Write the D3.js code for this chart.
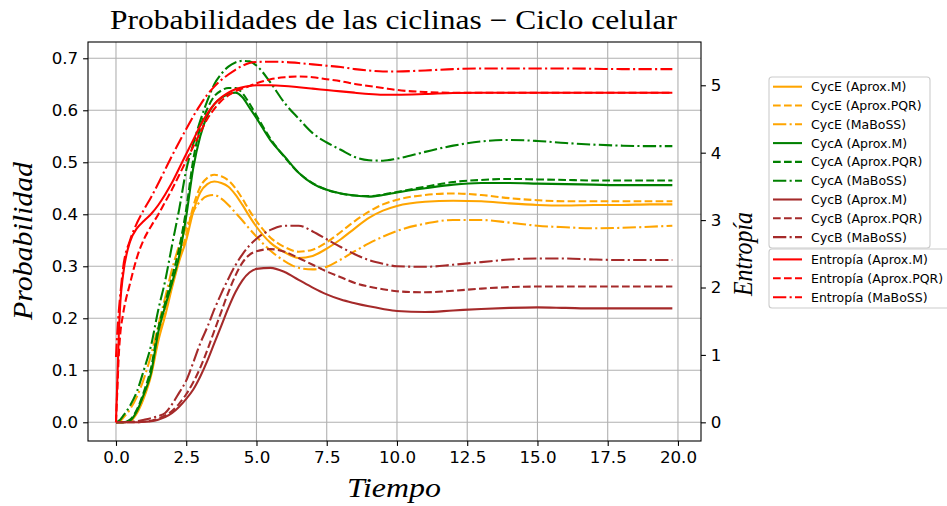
<!DOCTYPE html>
<html><head><meta charset="utf-8">
<script src="https://cdn.jsdelivr.net/npm/d3@7"></script>
<style>body{margin:0;background:#fff}</style>
</head><body><svg id="c" width="947" height="506"></svg>
<script>
// ---------- data ----------
const tiempo = [0,0.05,0.1,0.15,0.25,0.5,0.75,1,1.25,1.5,1.75,2,2.25,2.5,2.75,3,3.25,3.5,3.75,4,4.25,4.5,4.75,5,5.5,6,6.5,7,7.5,8,8.5,9,9.5,10,11,12,13,14,15,16,17,18,19,19.8];

const cycE_M   = [0,0,0,0, 0,0.002,0.018,0.048,0.09,0.155,0.205,0.26,0.31,0.35,0.405,0.442,0.458,0.463,0.46,0.453,0.438,0.418,0.396,0.376, 0.345,0.327,0.316,0.32,0.334,0.352,0.373,0.393,0.407,0.416, 0.424,0.426,0.425,0.421,0.418,0.417,0.418,0.418,0.419, 0.419];
const cycE_PQR = [0,0,0,0, 0,0.003,0.02,0.05,0.095,0.16,0.21,0.265,0.315,0.36,0.415,0.453,0.47,0.476,0.473,0.465,0.45,0.43,0.407,0.387, 0.355,0.337,0.328,0.332,0.346,0.366,0.387,0.405,0.419,0.428, 0.437,0.44,0.437,0.431,0.427,0.425,0.425,0.425,0.425, 0.425];
const cycE_MaB = [0,0,0.001,0.002, 0.008,0.025,0.05,0.085,0.13,0.185,0.24,0.295,0.34,0.375,0.405,0.425,0.435,0.437,0.43,0.418,0.403,0.388,0.372,0.357, 0.33,0.31,0.297,0.294,0.299,0.313,0.329,0.344,0.357,0.368, 0.382,0.389,0.389,0.384,0.378,0.375,0.373,0.374,0.376, 0.378];
const cycA_M   = [0,0,0,0, 0,0.003,0.022,0.055,0.095,0.172,0.223,0.269,0.32,0.396,0.489,0.55,0.59,0.612,0.624,0.631,0.634,0.625,0.605,0.585, 0.542,0.511,0.48,0.459,0.447,0.44,0.436,0.434,0.437,0.442, 0.45,0.457,0.46,0.46,0.459,0.458,0.457,0.456,0.456, 0.456];
const cycA_PQR = [0,0,0,0, 0,0.005,0.025,0.06,0.105,0.18,0.23,0.28,0.335,0.41,0.505,0.567,0.603,0.627,0.638,0.643,0.643,0.633,0.613,0.59, 0.545,0.51,0.48,0.46,0.447,0.44,0.436,0.435,0.438,0.443, 0.453,0.462,0.466,0.468,0.467,0.466,0.465,0.465,0.465, 0.465];
const cycA_MaB = [0,0.001,0.003,0.005, 0.012,0.032,0.06,0.102,0.148,0.215,0.272,0.342,0.41,0.485,0.535,0.58,0.618,0.65,0.67,0.684,0.692,0.695,0.694,0.686, 0.653,0.614,0.584,0.556,0.538,0.524,0.51,0.504,0.503,0.507, 0.52,0.532,0.54,0.543,0.541,0.537,0.534,0.532,0.531, 0.531];
const cycB_M   = [0,0,0,0, 0,0,0,0.001,0.002,0.005,0.01,0.018,0.03,0.045,0.063,0.088,0.118,0.152,0.186,0.22,0.25,0.273,0.288,0.295, 0.297,0.289,0.274,0.259,0.246,0.236,0.229,0.223,0.218,0.214, 0.212,0.215,0.218,0.22,0.221,0.22,0.219,0.219,0.219, 0.219];
const cycB_PQR = [0,0,0,0, 0,0,0,0.001,0.003,0.007,0.013,0.022,0.036,0.054,0.077,0.105,0.139,0.176,0.213,0.25,0.282,0.307,0.322,0.329, 0.333,0.328,0.316,0.303,0.29,0.279,0.268,0.261,0.256,0.252, 0.25,0.253,0.257,0.26,0.261,0.261,0.261,0.261,0.261, 0.261];
const cycB_MaB = [0,0,0,0, 0,0.001,0.002,0.005,0.008,0.012,0.018,0.035,0.057,0.08,0.115,0.152,0.183,0.217,0.248,0.276,0.302,0.323,0.34,0.353, 0.37,0.378,0.378,0.367,0.352,0.337,0.323,0.312,0.305,0.3, 0.299,0.303,0.308,0.313,0.315,0.315,0.313,0.312,0.312, 0.312];
const ent_M    = [0,0.65,1.3,1.75, 2.18,2.68,2.88,2.99,3.09,3.22,3.38,3.56,3.77,3.98,4.19,4.4,4.58,4.72,4.82,4.89,4.94,4.97,4.99,5.0, 5.0,4.99,4.97,4.95,4.93,4.91,4.89,4.87,4.86,4.86, 4.87,4.885,4.89,4.89,4.89,4.89,4.89,4.89,4.89, 4.89];
const ent_PQR  = [0,0.5,1.0,1.3, 1.6,2.06,2.45,2.72,2.91,3.08,3.27,3.46,3.67,3.88,4.09,4.3,4.5,4.65,4.77,4.85,4.91,4.95,4.99,5.03, 5.09,5.12,5.13,5.12,5.09,5.06,5.02,4.99,4.96,4.93, 4.9,4.89,4.89,4.89,4.89,4.89,4.89,4.89,4.89, 4.89];
const ent_MaB  = [0.97,1.35,1.65,1.88, 2.28,2.7,2.96,3.16,3.34,3.54,3.75,3.96,4.16,4.35,4.54,4.71,4.86,4.98,5.08,5.16,5.23,5.29,5.33,5.345, 5.35,5.345,5.33,5.31,5.29,5.27,5.24,5.22,5.205,5.205, 5.22,5.24,5.25,5.25,5.25,5.25,5.245,5.24,5.24, 5.24];

const xTicks = [0,2.5,5,7.5,10,12.5,15,17.5,20];
const yTicksL = [0,0.1,0.2,0.3,0.4,0.5,0.6,0.7];
const yTicksR = [0,1,2,3,4,5];
const probLabels = ["CycE (Aprox.M)","CycE (Aprox.PQR)","CycE (MaBoSS)","CycA (Aprox.M)","CycA (Aprox.PQR)","CycA (MaBoSS)","CycB (Aprox.M)","CycB (Aprox.PQR)","CycB (MaBoSS)"];
const entLabels = ["Entropía (Aprox.M)","Entropía (Aprox.PQR)","Entropía (MaBoSS)"];

// ---------- styles ----------
const DASH = {solid:null, dashed:"7.7,3.3", dashdot:"13.3,3.3,2.1,3.3"};
const probSeries = [
  [cycE_M,"#ffa500","solid"],[cycE_PQR,"#ffa500","dashed"],[cycE_MaB,"#ffa500","dashdot"],
  [cycA_M,"#008000","solid"],[cycA_PQR,"#008000","dashed"],[cycA_MaB,"#008000","dashdot"],
  [cycB_M,"#a52a2a","solid"],[cycB_PQR,"#a52a2a","dashed"],[cycB_MaB,"#a52a2a","dashdot"]];
const entSeries = [[ent_M,"#ff0000","solid"],[ent_PQR,"#ff0000","dashed"],[ent_MaB,"#ff0000","dashdot"]];

const svg = d3.select("#c");
const L=88, R=701, T=42, B=441;
const x = d3.scaleLinear().domain([-0.996, 20.82]).range([L,R]);
const yL = d3.scaleLinear().domain([-0.036, 0.7313]).range([B,T]);
const yR = d3.scaleLinear().domain([-0.277, 5.642]).range([B,T]);
const LW = 2.08;
const tickFont = "'DejaVu Sans', sans-serif";

svg.append("defs").append("clipPath").attr("id","clip")
  .append("rect").attr("x",L).attr("y",T).attr("width",R-L).attr("height",B-T);

// grid
const g = svg.append("g");
g.selectAll(".gx").data(xTicks).enter().append("line")
  .attr("x1",d=>x(d)).attr("x2",d=>x(d)).attr("y1",T).attr("y2",B)
  .attr("stroke","#b0b0b0").attr("stroke-width",1.1);
g.selectAll(".gy").data(yTicksL).enter().append("line")
  .attr("x1",L).attr("x2",R).attr("y1",d=>yL(d)).attr("y2",d=>yL(d))
  .attr("stroke","#b0b0b0").attr("stroke-width",1.1);

// lines
const plot = svg.append("g").attr("clip-path","url(#clip)");
function drawSeries(list, ys){
  list.forEach(([vals,col,st])=>{
    const line = d3.line().x((d,i)=>x(tiempo[i])).y(d=>ys(d)).curve(d3.curveMonotoneX);
    plot.append("path").datum(vals).attr("d",line).attr("fill","none")
      .attr("stroke",col).attr("stroke-width",LW)
      .attr("stroke-dasharray",DASH[st]);
  });
}
drawSeries(probSeries, yL);
drawSeries(entSeries, yR);

// frame
svg.append("rect").attr("x",L).attr("y",T).attr("width",R-L).attr("height",B-T)
  .attr("fill","none").attr("stroke","#000").attr("stroke-width",1.1);

// axes
function styleAxis(sel){
  sel.select(".domain").remove();
  sel.selectAll("line").attr("stroke","#000").attr("stroke-width",1.1);
  sel.selectAll("text").attr("font-family",tickFont).attr("font-size","16.7px").attr("fill","#000");
}
svg.append("g").attr("transform",`translate(0,${B})`)
  .call(d3.axisBottom(x).tickValues(xTicks).tickFormat(d3.format(".1f")).tickSize(4.9).tickPadding(4.9))
  .call(styleAxis);
svg.append("g").attr("transform",`translate(${L},0)`)
  .call(d3.axisLeft(yL).tickValues(yTicksL).tickFormat(d3.format(".1f")).tickSize(4.9).tickPadding(4.9))
  .call(styleAxis);
svg.append("g").attr("transform",`translate(${R},0)`)
  .call(d3.axisRight(yR).tickValues(yTicksR).tickFormat(d3.format("d")).tickSize(4.9).tickPadding(4.9))
  .call(styleAxis);

// titles
const serif = "'Liberation Serif','DejaVu Serif',serif";
svg.append("text").attr("x",393.5).attr("y",29).attr("text-anchor","middle")
  .attr("font-family",serif).attr("font-size","27px")
  .attr("textLength",567).attr("lengthAdjust","spacingAndGlyphs")
  .text("Probabilidades de las ciclinas − Ciclo celular");
svg.append("text").attr("x",394).attr("y",497).attr("text-anchor","middle")
  .attr("font-family",serif).attr("font-style","italic").attr("font-size","28px")
  .attr("textLength",94).attr("lengthAdjust","spacingAndGlyphs").text("Tiempo");
svg.append("text").attr("transform","translate(32,241) rotate(-90)").attr("text-anchor","middle")
  .attr("font-family",serif).attr("font-style","italic").attr("font-size","28px")
  .attr("textLength",158).attr("lengthAdjust","spacingAndGlyphs").text("Probabilidad");
svg.append("text").attr("transform","translate(752,254) rotate(-90)").attr("text-anchor","middle")
  .attr("font-family",serif).attr("font-style","italic").attr("font-size","28px")
  .attr("textLength",84).attr("lengthAdjust","spacingAndGlyphs").text("Entropía");

// legends
function legend(x0,y0,w,h,labels,series,firstY,step){
  const lg = svg.append("g");
  lg.append("rect").attr("x",x0).attr("y",y0).attr("width",w).attr("height",h).attr("rx",3)
    .attr("fill","#fff").attr("fill-opacity",0.8).attr("stroke","#cccccc").attr("stroke-width",1.1);
  labels.forEach((lab,i)=>{
    const yy = firstY + i*step;
    lg.append("line").attr("x1",773).attr("x2",802).attr("y1",yy).attr("y2",yy)
      .attr("stroke",series[i][1]).attr("stroke-width",LW).attr("stroke-dasharray",DASH[series[i][2]]);
    lg.append("text").attr("x",811).attr("y",yy).attr("dy","0.36em")
      .attr("font-family",tickFont).attr("font-size","12.5px").attr("fill","#000").text(lab);
  });
}
legend(769,77,161,171,probLabels,probSeries,86.7,18.8);
legend(769,249,185,59,entLabels,entSeries,259.4,18.9);
</script></body></html>
